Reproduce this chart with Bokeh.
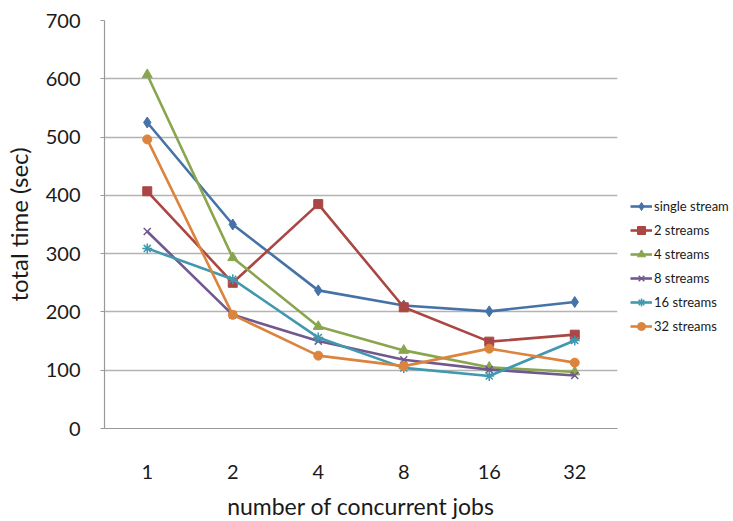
from bokeh.plotting import figure
from bokeh.models import Legend, LegendItem, FactorRange, Range1d, SingleIntervalTicker
from bokeh.embed import file_html
from bokeh.resources import INLINE

jobs = ["1", "2", "4", "8", "16", "32"]
single_stream = [525, 350, 237, 211, 201, 217]
streams_2 = [407, 250, 385, 208, 149, 161]
streams_4 = [607, 293, 175, 134, 105, 97]
streams_8 = [338, 195, 150, 118, 101, 91]
streams_16 = [309, 256, 156, 104, 90, 151]
streams_32 = [496, 195, 125, 107, 137, 113]

series = [
    ("single stream", single_stream, "#4572A7", "diamond", 11),
    ("2 streams", streams_2, "#AA4643", "square", 9),
    ("4 streams", streams_4, "#89A54E", "triangle", 10),
    ("8 streams", streams_8, "#71588F", "x", 10),
    ("16 streams", streams_16, "#4198AF", "asterisk", 10),
    ("32 streams", streams_32, "#DB843D", "circle", 9),
]

FONT = "Lato"

p = figure(x_range=FactorRange(*jobs), y_range=Range1d(0, 700),
           frame_width=513, frame_height=408,
           min_border_left=96, min_border_top=20, min_border_bottom=80, min_border_right=0,
           output_backend="svg", toolbar_location=None)
p.outline_line_color = None
p.background_fill_color = "white"
p.border_fill_color = "white"

items = []
for name, vals, color, marker, size in series:
    r1 = p.line(jobs, vals, line_color=color, line_width=2.6)
    r2 = p.scatter(jobs, vals, marker=marker, size=size, fill_color=color,
                   line_color=color, line_width=1.5 if marker in ("x", "asterisk") else 1)
    items.append(LegendItem(label=name, renderers=[r1, r2]))

# axes
p.xgrid.grid_line_color = None
p.ygrid.grid_line_color = "#B3B3B3"
p.ygrid.grid_line_width = 1.5
p.yaxis.ticker = SingleIntervalTicker(interval=100)
for ax in (p.xaxis[0], p.yaxis[0]):
    ax.axis_line_color = "#999999"
    ax.axis_line_width = 1.2
    ax.major_label_text_font = FONT
    ax.major_label_text_font_size = "20px"
    ax.major_label_text_color = "#1a1a1a"
    ax.axis_label_text_font = FONT
    ax.axis_label_text_font_style = "normal"
    ax.axis_label_text_color = "#1a1a1a"
    ax.minor_tick_line_color = None

p.xaxis.major_tick_line_color = None
p.xaxis.major_label_standoff = 30
p.xaxis.axis_label = "number of concurrent jobs"
p.xaxis.axis_label_text_font_size = "23px"
p.xaxis.axis_label_standoff = 10

p.yaxis.major_tick_line_color = "#999999"
p.yaxis.major_tick_in = 0
p.yaxis.major_tick_out = 4
p.yaxis.major_label_standoff = 20
p.yaxis.axis_label = "total time (sec)"
p.yaxis.axis_label_text_font_size = "24px"
p.yaxis.axis_label_standoff = 10

legend = Legend(items=items, location=(13, 92))
legend.border_line_color = None
legend.background_fill_alpha = 0
legend.label_text_font = FONT
legend.label_text_font_size = "13px"
legend.label_text_color = "#1a1a1a"
legend.glyph_width = 22
legend.glyph_height = 20
legend.label_height = 20
legend.spacing = 4
legend.padding = 0
legend.margin = 0
legend.label_standoff = 2
p.add_layout(legend, "right")

open("out.html", "w").write(file_html(p, INLINE))
